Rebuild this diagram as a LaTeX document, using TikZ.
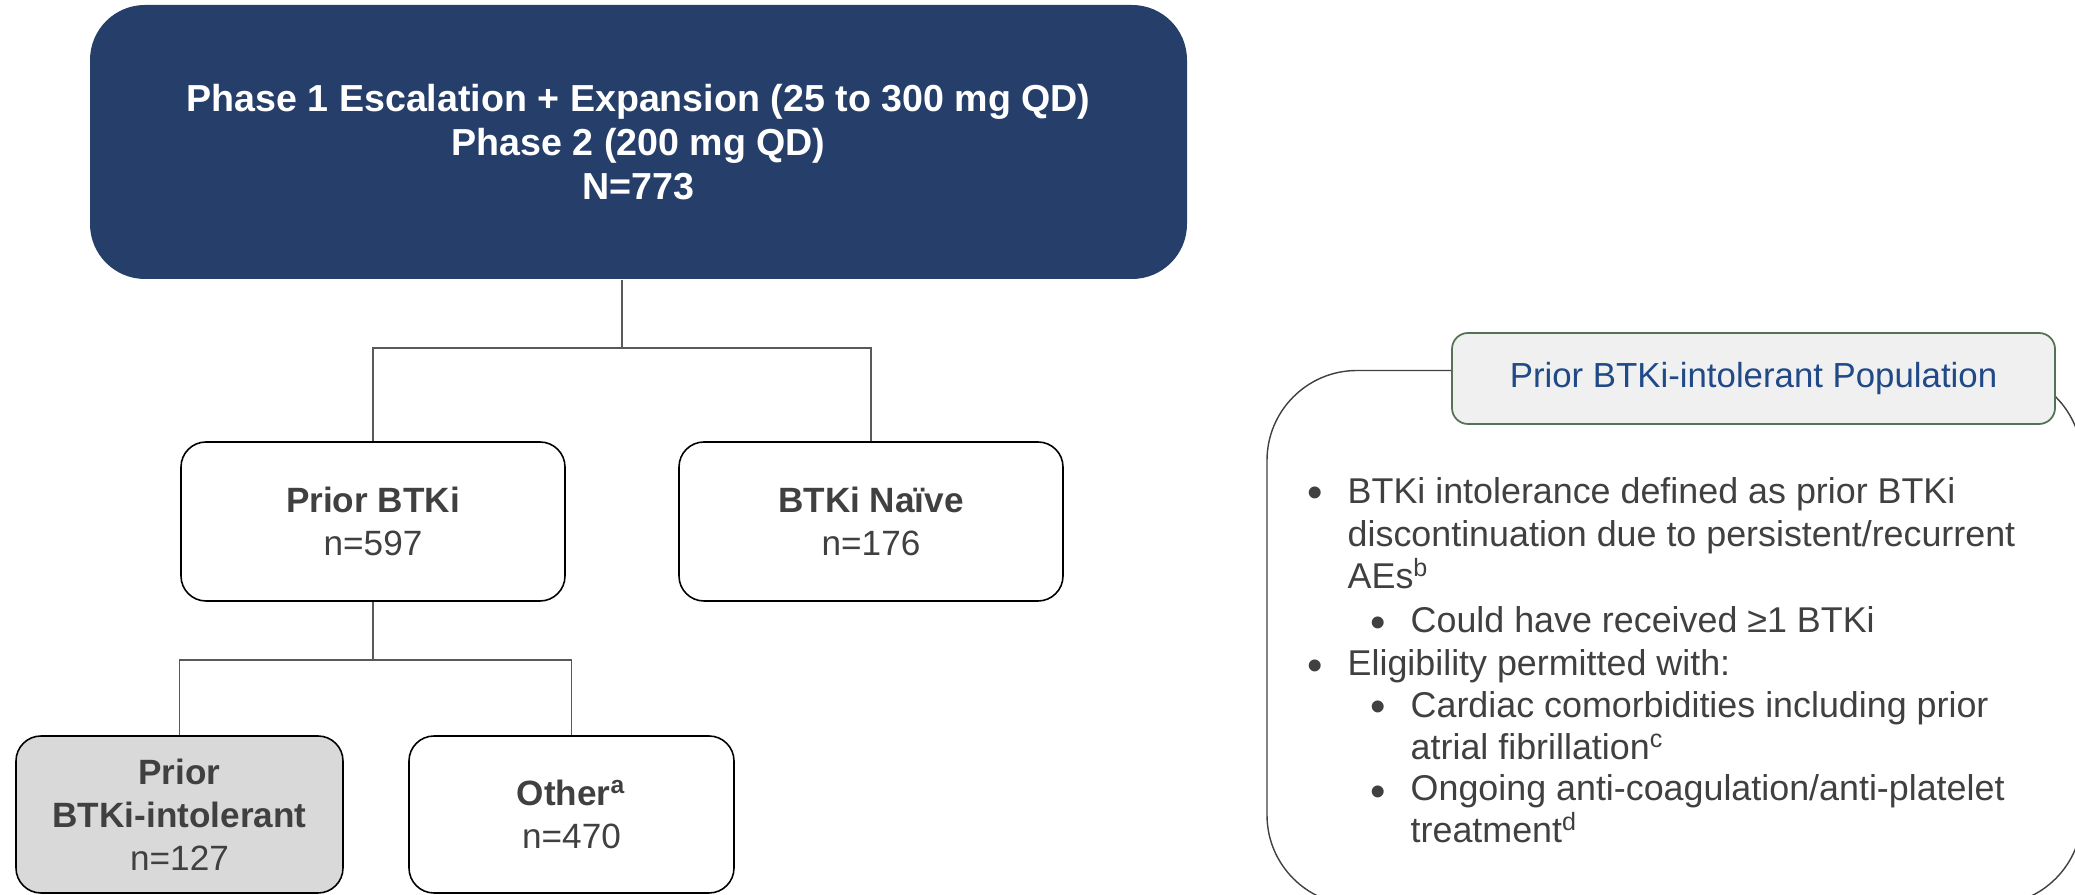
\documentclass[tikz,border=0pt]{standalone}
\usepackage{fontspec}
\setmainfont{Liberation Sans}
\usepackage{xcolor}
\definecolor{navy}{RGB}{38,63,106}
\definecolor{textgray}{RGB}{64,64,64}
\definecolor{linegray}{RGB}{89,89,89}
\definecolor{boxgray}{RGB}{217,217,217}
\definecolor{tabfill}{RGB}{240,240,240}
\definecolor{tabline}{RGB}{84,115,84}
\definecolor{titleblue}{RGB}{31,73,135}
\usepackage{tikz}
\usetikzlibrary{positioning, calc}

\tikzset{
    conn/.style={draw=linegray, line width=0.55pt},
    armbox/.style={draw=black, line width=0.45pt, rounded corners=0.25cm, align=center,
        text=textgray, font=\fontsize{10}{12.2}\selectfont},
    bullettext/.style={anchor=base west, align=left, inner sep=0pt, text=textgray,
        font=\fontsize{10.2}{12.15}\selectfont},
    bulletdot/.style={bullettext, font=\fontsize{12.5}{12.5}\selectfont}
}

\begin{document}
\begin{tikzpicture}
        \useasboundingbox (0,0) rectangle (20.75,8.95);
        \clip (0,0) rectangle (20.75,8.95);

        % Study population
        \node[fill=navy, rounded corners=0.55cm, minimum width=10.97cm, minimum height=2.74cm,
              align=center, text=white, font=\fontsize{10.7}{12.5}\selectfont\bfseries]
              (phase) at (6.385,7.53)
              {Phase 1 Escalation + Expansion (25 to 300 mg QD)\\Phase 2 (200 mg QD)\\N=773};

        % Arms
        \node[armbox, minimum width=3.84cm, minimum height=1.59cm] (prior) at (3.73,3.735)
              {\textbf{Prior BTKi}\\n=597};
        \node[armbox, minimum width=3.84cm, minimum height=1.59cm] (naive) at (8.71,3.735)
              {\textbf{BTKi Naïve}\\n=176};

        % Prior BTKi subgroups
        \node[armbox, fill=boxgray, minimum width=3.27cm, minimum height=1.57cm] (intol) at (1.795,0.805)
              {\textbf{Prior}\\\textbf{BTKi-intolerant}\\n=127};
        \node[armbox, minimum width=3.25cm, minimum height=1.57cm] (other) at (5.715,0.805)
              {\textbf{Other\textsuperscript{a}}\\n=470};

        % Connectors
        \coordinate (split1) at (6.22,5.47);
        \coordinate (split2) at ($(prior.south)+(0,-0.58)$);
        \draw[conn] (phase.south -| split1) -- (split1) -| (prior.north);
        \draw[conn] (split1) -| (naive.north);
        \draw[conn] (prior.south) -- (split2) -| (intol.north);
        \draw[conn] (split2) -| (other.north);

        % Population panel
        \draw[draw=textgray, line width=0.4pt, rounded corners=0.9cm] (12.67,-0.10) rectangle (20.82,5.245);
        \node[draw=tabline, fill=tabfill, line width=0.5pt, rounded corners=0.16cm,
              minimum width=6.03cm, minimum height=0.91cm, text=titleblue,
              font=\fontsize{9.9}{12}\selectfont] (poptitle) at (17.535,5.165)
              {Prior BTKi-intolerant Population};

        % Bullets (multi-line texts sit on their last line)
        \node[bulletdot] (dot1) at (13.07,3.87) {•};
        \node[bullettext] (item1) at (13.47,3.06)
              {BTKi intolerance defined as prior BTKi\\discontinuation due to persistent/recurrent\\AEs\textsuperscript{b}};
        \node[bulletdot] (dot1a) at (13.70,2.57) {•};
        \node[bullettext] (item1a) at (14.10,2.62) {Could have received ≥1 BTKi};
        \node[bulletdot] (dot2) at (13.07,2.14) {•};
        \node[bullettext] (item2) at (13.47,2.19) {Eligibility permitted with:};
        \node[bulletdot] (dot2a) at (13.70,1.73) {•};
        \node[bullettext] (item2a) at (14.10,1.35)
              {Cardiac comorbidities including prior\\atrial fibrillation\textsuperscript{c}};
        \node[bulletdot] (dot2b) at (13.70,0.88) {•};
        \node[bullettext] (item2b) at (14.10,0.52)
              {Ongoing anti-coagulation/anti-platelet\\treatment\textsuperscript{d}};
    \end{tikzpicture}
\end{document}
